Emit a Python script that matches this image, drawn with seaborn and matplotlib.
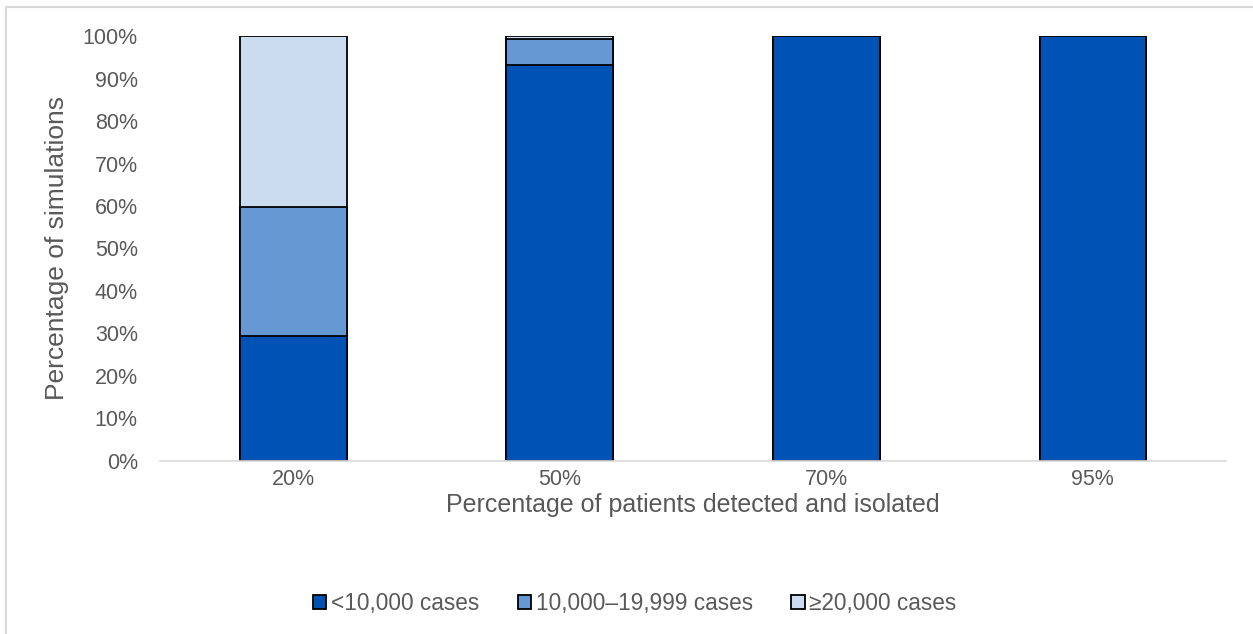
import matplotlib
matplotlib.use("Agg")
import matplotlib.pyplot as plt
import matplotlib.patches as mpatches
import seaborn as sns
import pandas as pd

# data (percent of simulations)
detected = ["20%", "50%", "70%", "95%"]
under_10k = [29.3, 93.2, 100.0, 100.0]
mid_10k_20k = [30.5, 6.0, 0.0, 0.0]
over_20k = [40.2, 0.8, 0.0, 0.0]

series_names = ["<10,000 cases", "10,000\u201319,999 cases", "\u226520,000 cases"]
colors = ["#0053B4", "#6699D4", "#CCDCF0"]
text_gray = "#595959"

sns.set_theme(style="white")
plt.rcParams["font.family"] = ["Liberation Sans", "DejaVu Sans"]

df = pd.DataFrame({
    "detected": detected,
    "s1": under_10k,
    "s2": mid_10k_20k,
    "s3": over_20k,
})
# cumulative tops, drawn back to front
df["top3"] = df["s1"] + df["s2"] + df["s3"]
df["top2"] = df["s1"] + df["s2"]
df["top1"] = df["s1"]

fig = plt.figure(figsize=(12.53, 6.34), dpi=100)
ax = fig.add_axes([0.1277, 0.2729, 0.8508, 0.6703])

for col, c in zip(["top3", "top2", "top1"], colors[::-1]):
    sns.barplot(data=df, x="detected", y=col, color=c, width=0.4,
                edgecolor="black", linewidth=1.3, saturation=1, ax=ax)

ax.set_ylim(0, 100)
ax.set_xlim(-0.5, 3.5)
ax.set_yticks(range(0, 101, 10))
ax.set_yticklabels([f"{v}%" for v in range(0, 101, 10)])
ax.tick_params(axis="both", length=0, labelsize=15.5, colors=text_gray)
ax.tick_params(axis="x", pad=6)
ax.tick_params(axis="y", pad=16)
ax.set_xlabel("Percentage of patients detected and isolated", fontsize=18,
              color=text_gray, labelpad=2)
ax.set_ylabel("Percentage of simulations", fontsize=19, color=text_gray, labelpad=10)

for s in ["top", "right", "left"]:
    ax.spines[s].set_visible(False)
ax.spines["bottom"].set_color("#D9D9D9")
ax.spines["bottom"].set_linewidth(1.2)

handles = [mpatches.Patch(facecolor=c, edgecolor="black", linewidth=1.3) for c in colors]
leg = fig.legend(handles, series_names, loc="center", bbox_to_anchor=(0.5065, 0.048),
                 ncol=3, frameon=False, fontsize=16.3, handlelength=0.6,
                 handleheight=0.6, handletextpad=0.2, columnspacing=1.7)
for t in leg.get_texts():
    t.set_color(text_gray)

# chart-area frame (cropped at right and bottom)
frame = mpatches.Rectangle((6 / 1253, -0.1), 1.2, 1.1 - 7 / 634,
                           transform=fig.transFigure, fill=False,
                           edgecolor="#D9D9D9", linewidth=1.5)
fig.patches.append(frame)

fig.savefig("out.png", dpi=100, facecolor="white")
